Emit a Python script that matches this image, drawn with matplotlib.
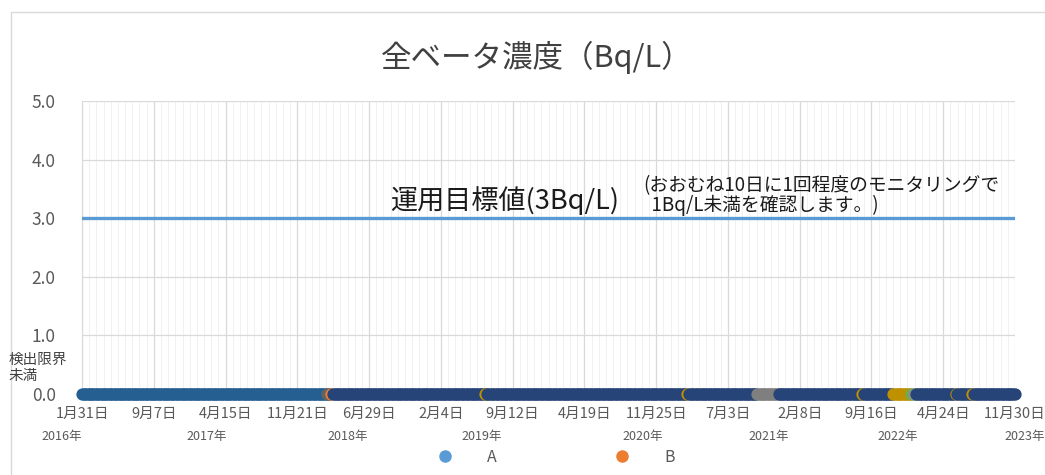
"""Recreate the 全ベータ濃度 monitoring chart (values below detection limit)."""

import matplotlib

matplotlib.use("Agg")
import matplotlib.dates as mdates
import matplotlib.patches as mpatches
import matplotlib.pyplot as plt
import pandas as pd
from matplotlib.lines import Line2D
from matplotlib.ticker import FixedLocator

plt.rcParams["font.family"] = ["Noto Sans CJK JP", "DejaVu Sans"]

# ---- data ------------------------------------------------------------------
X_START, X_END = "2016-01-31", "2023-11-30"
TARGET_VALUE = 3.0  # 運用目標値 (3Bq/L)

# measurements, all below the detection limit (plotted at 0), ~every 10 days;
# colour segments as they appear in the band
SEG_START = ["2016-01-31", "2018-02-20", "2018-03-05", "2018-03-10", "2019-06-20",
             "2019-06-25", "2021-03-01", "2021-03-06", "2021-10-01", "2021-12-05",
             "2022-08-19", "2022-08-24", "2022-11-22", "2023-01-15", "2023-01-25",
             "2023-02-01", "2023-06-01", "2023-06-06", "2023-07-22", "2023-07-27"]
SEG_END = ["2018-02-19", "2018-03-04", "2018-03-09", "2019-06-19", "2019-06-24",
           "2021-02-28", "2021-03-05", "2021-09-30", "2021-12-04", "2022-08-18",
           "2022-08-23", "2022-11-21", "2023-01-14", "2023-01-24", "2023-01-31",
           "2023-05-31", "2023-06-05", "2023-07-21", "2023-07-26", "2023-11-30"]
SEG_COLOR = ["#255E91", "#636363", "#ED7D31", "#264478", "#BF9000",
             "#264478", "#BF9000", "#264478", "#7F7F7F", "#264478",
             "#BF9000", "#264478", "#BF9000", "#70AD47", "#8E8E8E",
             "#264478", "#BF9000", "#264478", "#BF9000", "#264478"]

TICK_DATES = ["2016-01-31", "2016-09-07", "2017-04-15", "2017-11-21", "2018-06-29",
              "2019-02-04", "2019-09-12", "2020-04-19", "2020-11-25", "2021-07-03",
              "2022-02-08", "2022-09-16", "2023-04-24", "2023-11-30"]
YEAR_LABELS = ["2016年", "2017年", "2018年", "2019年", "2020年", "2021年", "2022年", "2023年"]
YEAR_LABEL_DATES = ["2015-12-01", "2017-02-17", "2018-04-23", "2019-06-10",
                    "2020-10-16", "2021-11-04", "2022-12-04", "2023-12-31"]
Y_TICKS = [0.0, 1.0, 2.0, 3.0, 4.0, 5.0]

LEGEND_NAMES = ["A", "B"]
LEGEND_COLORS = ["#5B9BD5", "#ED7D31"]

TXT = "#595959"


def main(out="out.png"):
    fig = plt.figure(figsize=(10.45, 4.75), dpi=100)
    fig.patches.append(mpatches.Rectangle((0.011, -0.01), 1.0, 0.985, transform=fig.transFigure,
                                          fc="none", ec="#D9D9D9", lw=1.0, zorder=-1))
    ax = fig.add_axes([0.0785, 0.1705, 0.8928, 0.6168])
    ax.patch.set_alpha(0)

    x0, x1 = pd.Timestamp(X_START), pd.Timestamp(X_END)
    ax.set_xlim(x0, x1)
    ax.set_ylim(0, 5)

    # grid
    major = [mdates.date2num(pd.Timestamp(d)) for d in TICK_DATES]
    ax.xaxis.set_major_locator(FixedLocator(major))
    ax.xaxis.set_minor_locator(FixedLocator(
        [major[0] + 22 * i for i in range(131)]))
    ax.set_yticks(Y_TICKS)
    ax.grid(which="major", color="#D9D9D9", lw=0.9)
    ax.grid(which="minor", axis="x", color="#EFEFEF", lw=0.6)
    ax.set_axisbelow(True)
    for s in ("top", "right", "bottom"):
        ax.spines[s].set_visible(False)
    ax.spines["left"].set_color("#D9D9D9")

    ax.set_xticklabels([f"{pd.Timestamp(d).month}月{pd.Timestamp(d).day}日" for d in TICK_DATES])
    ax.set_yticklabels([f"{v:.1f}" for v in Y_TICKS])
    ax.tick_params(axis="x", which="both", length=0, pad=9, labelsize=10.5, labelcolor=TXT)
    ax.tick_params(axis="y", length=0, pad=19, labelsize=12.5, labelcolor=TXT)

    for lab, d in zip(YEAR_LABELS, YEAR_LABEL_DATES):
        ax.text(pd.Timestamp(d), -0.72, lab, ha="center", va="center",
                fontsize=9, color=TXT, clip_on=False)

    # target line
    ax.plot([x0, x1], [TARGET_VALUE, TARGET_VALUE], color="#5B9BD5", lw=2.4, zorder=3)

    # measurements
    for s, e, c in zip(SEG_START, SEG_END, SEG_COLOR):
        dates = pd.date_range(s, e, freq="5D")
        ax.scatter(dates, [0.0] * len(dates), s=78, color=c, lw=0, zorder=4, clip_on=False)

    ax.text(-0.0785, 0.088, "検出限界\n未満", transform=ax.transAxes, ha="left", va="center",
            fontsize=10.5, color="#404040", linespacing=1.2)

    fig.text(0.514, 0.88, "全ベータ濃度（Bq/L）", ha="center", va="center",
             fontsize=22, color="#404040")
    ax.text(pd.Timestamp("2018-08-31"), 3.31, "運用目標値(3Bq/L)", ha="left", va="center",
            fontsize=19.5, color="#1a1a1a")
    ax.text(pd.Timestamp("2020-10-16"), 3.39,
            "(おおむね10日に1回程度のモニタリングで\n  1Bq/L未満を確認します。)",
            ha="left", va="center", fontsize=13.5, color="#1a1a1a", linespacing=0.92)

    handles = [Line2D([], [], ls="none", marker="o", ms=8, color=c) for c in LEGEND_COLORS]
    fig.legend(handles, LEGEND_NAMES, loc="center", bbox_to_anchor=(0.528, 0.037), ncol=2,
               frameon=False, fontsize=11.5, labelcolor=TXT, columnspacing=6.9,
               handletextpad=1.6)

    fig.savefig(out, dpi=100, facecolor="white")


if __name__ == "__main__":
    main()
